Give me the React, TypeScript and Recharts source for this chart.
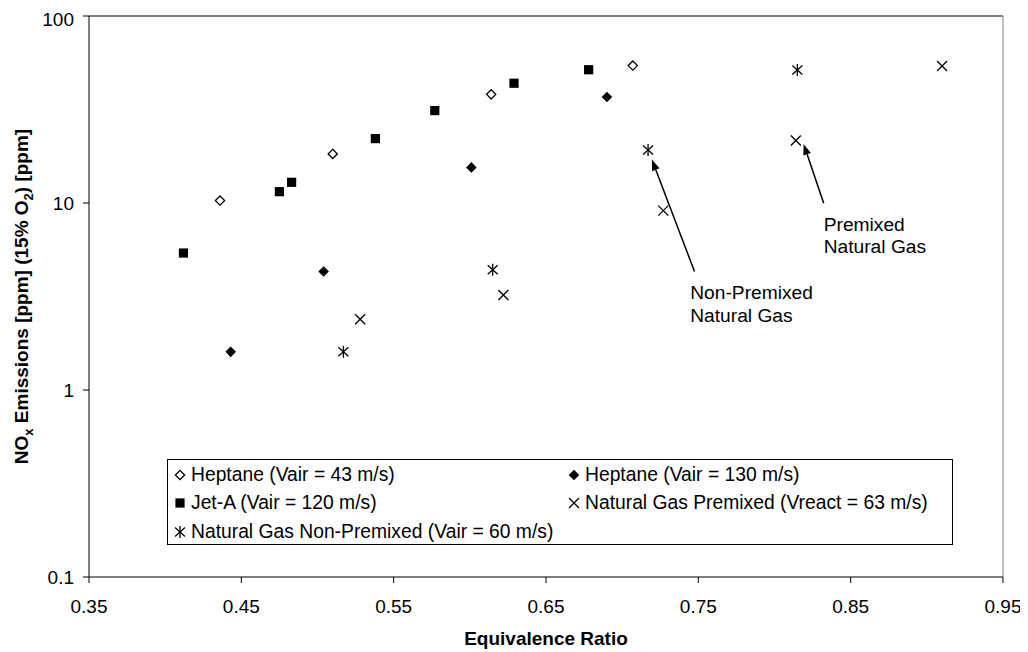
import React from 'react';
import { ScatterChart, Scatter, XAxis, YAxis, ReferenceLine, ReferenceDot, Legend, Label } from 'recharts';

// values
const heptane43 = [
  { x: 0.436, y: 10.3 },
  { x: 0.510, y: 18.3 },
  { x: 0.614, y: 38.1 },
  { x: 0.707, y: 54.3 },
];
const heptane130 = [
  { x: 0.443, y: 1.6 },
  { x: 0.504, y: 4.3 },
  { x: 0.601, y: 15.5 },
  { x: 0.690, y: 36.9 },
];
const jetA = [
  { x: 0.412, y: 5.4 },
  { x: 0.475, y: 11.5 },
  { x: 0.483, y: 12.9 },
  { x: 0.538, y: 22.1 },
  { x: 0.577, y: 31.2 },
  { x: 0.629, y: 43.7 },
  { x: 0.678, y: 51.6 },
];
const ngPremixed = [
  { x: 0.528, y: 2.39 },
  { x: 0.622, y: 3.22 },
  { x: 0.727, y: 9.1 },
  { x: 0.814, y: 21.6 },
  { x: 0.910, y: 54.0 },
];
const ngNonPremixed = [
  { x: 0.517, y: 1.6 },
  { x: 0.615, y: 4.4 },
  { x: 0.717, y: 19.2 },
  { x: 0.815, y: 51.4 },
];

const xTicks = [0.35, 0.45, 0.55, 0.65, 0.75, 0.85, 0.95];
const yTicks = [0.1, 1, 10, 100];

// annotation arrows: [start, tip]
const nonPremixedArrow = [{ x: 0.7475, y: 4.3 }, { x: 0.7195, y: 17.1 }];
const premixedArrow = [{ x: 0.8323, y: 9.98 }, { x: 0.8191, y: 20.7 }];
const nonPremixedNote = { x: 0.7447, y: 3.05, lines: ['Non-Premixed', 'Natural Gas'] };
const premixedNote = { x: 0.8323, y: 7.11, lines: ['Premixed', 'Natural Gas'] };

const FONT = '"Liberation Sans", Arial, sans-serif';

const OpenDiamond = ({ cx, cy }: any) => (
  <polygon points={`${cx},${cy - 4.6} ${cx + 4.6},${cy} ${cx},${cy + 4.6} ${cx - 4.6},${cy}`} fill="#fff" stroke="#000" strokeWidth={1.3} />
);
const FilledDiamond = ({ cx, cy }: any) => (
  <polygon points={`${cx},${cy - 5.3} ${cx + 5.3},${cy} ${cx},${cy + 5.3} ${cx - 5.3},${cy}`} fill="#000" />
);
const Square = ({ cx, cy }: any) => <rect x={cx - 4.6} y={cy - 4.6} width={9.2} height={9.2} fill="#000" />;
const Cross = ({ cx, cy }: any) => (
  <g stroke="#000" strokeWidth={1.3}>
    <line x1={cx - 5} y1={cy - 5} x2={cx + 5} y2={cy + 5} />
    <line x1={cx - 5} y1={cy + 5} x2={cx + 5} y2={cy - 5} />
  </g>
);
const Star = ({ cx, cy }: any) => (
  <g stroke="#000" strokeWidth={1.3}>
    <line x1={cx - 5} y1={cy - 4.5} x2={cx + 5} y2={cy + 4.5} />
    <line x1={cx - 5} y1={cy + 4.5} x2={cx + 5} y2={cy - 4.5} />
    <line x1={cx} y1={cy - 6} x2={cx} y2={cy + 6} />
  </g>
);

const series = [
  { name: 'Heptane (Vair = 43 m/s)', data: heptane43, shape: OpenDiamond },
  { name: 'Heptane (Vair = 130 m/s)', data: heptane130, shape: FilledDiamond },
  { name: 'Jet-A (Vair = 120 m/s)', data: jetA, shape: Square },
  { name: 'Natural Gas Premixed (Vreact = 63 m/s)', data: ngPremixed, shape: Cross },
  { name: 'Natural Gas Non-Premixed (Vair = 60 m/s)', data: ngNonPremixed, shape: Star },
];

const Arrow = (props: any) => {
  const { x1, y1, x2, y2 } = props;
  const a = Math.atan2(y2 - y1, x2 - x1);
  const len = 11;
  const w = 4;
  const bx = x2 - len * Math.cos(a);
  const by = y2 - len * Math.sin(a);
  const px = -Math.sin(a) * w;
  const py = Math.cos(a) * w;
  return (
    <g>
      <line x1={x1} y1={y1} x2={bx} y2={by} stroke="#000" strokeWidth={1.5} />
      <polygon points={`${x2},${y2} ${bx + px},${by + py} ${bx - px},${by - py}`} fill="#000" />
    </g>
  );
};

const note = (lines: string[]) => (props: any) => (
  <text x={props.cx} y={props.cy} fontSize={19.2} fill="#000" fontFamily={FONT}>
    {lines.map((l, i) => (
      <tspan key={i} x={props.cx} dy={i === 0 ? 0 : 22.3}>{l}</tspan>
    ))}
  </text>
);

const YTitle = (props: any) => {
  const vb = props.viewBox || { x: 0, y: 8, width: 81, height: 561 };
  const cx = vb.x + 19.7;
  const cy = vb.y + vb.height / 2;
  return (
    <text x={cx} y={cy} transform={`rotate(-90 ${cx} ${cy})`} textAnchor="middle" fontWeight="bold" fontSize={19} fill="#000" fontFamily={FONT}>
      NO<tspan dy={5} fontSize={13}>x</tspan>
      <tspan dy={-5}> Emissions [ppm] (15% O</tspan>
      <tspan dy={5} fontSize={13}>2</tspan>
      <tspan dy={-5}>) [ppm]</tspan>
    </text>
  );
};

const LegendBox = () => (
  <div style={{ position: 'relative', width: 786, height: 86, border: '1px solid #000', boxSizing: 'border-box', background: '#fff', fontFamily: FONT, fontSize: 19.3, color: '#000' }}>
    {series.map((s, i) => {
      const col = i % 2;
      const row = Math.floor(i / 2);
      const Shape = s.shape;
      const top = 15 + row * 28.3;
      const mx = col === 0 ? 12 : 406;
      return (
        <div key={s.name} style={{ position: 'absolute', left: mx - 7, top: top - 12, height: 24, display: 'flex', alignItems: 'center', whiteSpace: 'nowrap' }}>
          <svg width={14} height={14} style={{ marginRight: 4 }}>
            <Shape cx={7} cy={7} />
          </svg>
          <span>{s.name}</span>
        </div>
      );
    })}
  </div>
);

export default function App() {
  return (
    <div style={{ width: 1012, height: 644 }}>
      <ScatterChart width={1012} height={644} margin={{ top: 8, right: 17, bottom: 0, left: 0 }} style={{ fontFamily: FONT }}>
        <XAxis
          type="number"
          dataKey="x"
          domain={[0.35, 0.95]}
          ticks={xTicks}
          tickFormatter={(v: number) => v.toFixed(2)}
          height={75}
          tick={{ fill: '#000', fontSize: 19 }}
          tickSize={6}
          tickMargin={17}
          axisLine={{ stroke: '#000' }}
          tickLine={{ stroke: '#000' }}
          allowDataOverflow
        >
          <Label value="Equivalence Ratio" position="insideBottom" offset={7} fontWeight="bold" fontSize={19} fill="#000" />
        </XAxis>
        <YAxis
          type="number"
          dataKey="y"
          scale="log"
          domain={[0.1, 100]}
          ticks={yTicks}
          tickFormatter={(v: number) => String(v)}
          width={81}
          tick={{ fill: '#000', fontSize: 19 }}
          tickSize={6}
          tickMargin={9}
          axisLine={{ stroke: '#000' }}
          tickLine={{ stroke: '#000' }}
          allowDataOverflow
        >
          <Label content={YTitle} />
        </YAxis>
        <ReferenceLine y={100} stroke="#000" />
        <ReferenceLine x={0.95} stroke="#808080" />
        {series.map((s) => (
          <Scatter key={s.name} name={s.name} data={s.data} shape={s.shape} isAnimationActive={false} />
        ))}
        <ReferenceLine segment={nonPremixedArrow} shape={Arrow} />
        <ReferenceLine segment={premixedArrow} shape={Arrow} />
        <ReferenceDot x={nonPremixedNote.x} y={nonPremixedNote.y} r={0} shape={note(nonPremixedNote.lines)} />
        <ReferenceDot x={premixedNote.x} y={premixedNote.y} r={0} shape={note(premixedNote.lines)} />
        <Legend
          layout="horizontal"
          verticalAlign="middle"
          align="center"
          content={LegendBox}
          wrapperStyle={{ left: 159, top: 451, width: 786, height: 86 }}
        />
      </ScatterChart>
    </div>
  );
}
